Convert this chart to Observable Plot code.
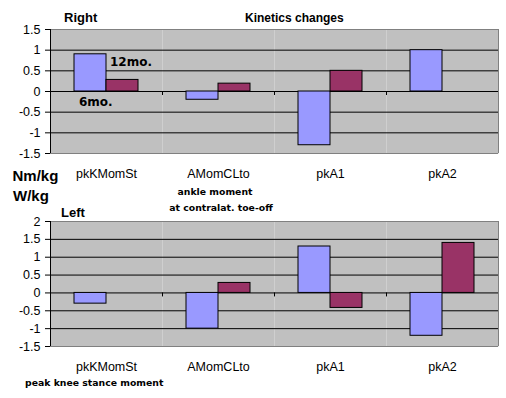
<!DOCTYPE html>
<html><head><meta charset="utf-8">
<script src="https://cdn.jsdelivr.net/npm/d3@7"></script>
<script src="https://cdn.jsdelivr.net/npm/@observablehq/plot@0.6"></script>
<style>
body{margin:0;background:#fff;}
#wrap{position:relative;width:506px;height:398px;overflow:hidden;font-family:"Liberation Sans",Arial,sans-serif;color:#000;}
#wrap svg{position:absolute;left:0;}
.lbl{position:absolute;white-space:nowrap;line-height:1;transform:translateY(-50%);}
.ctr{transform:translate(-50%,-50%);}
.b{font-weight:bold;}
.small{font-family:"DejaVu Sans",sans-serif;font-weight:bold;font-size:9.3px;}
.mo{font-family:"DejaVu Sans",sans-serif;font-weight:bold;font-size:12px;}
</style></head><body><div id="wrap"></div>
<script>
const categories = ["pkKMomSt", "AMomCLto", "pkA1", "pkA2"];
const seriesNames = ["6mo.", "12mo."];
const right6 = [0.9, -0.2, -1.3, 1.0];
const right12 = [0.28, 0.19, 0.5, 0];
const left6 = [-0.3, -1.0, 1.3, -1.2];
const left12 = [0, 0.28, -0.42, 1.4];
const yTicksRight = [-1.5, -1, -0.5, 0, 0.5, 1, 1.5];
const yTicksLeft = [-1.5, -1, -0.5, 0, 0.5, 1, 1.5, 2];

function rows(a, b) {
  return categories.flatMap((c, i) => [
    {cat: c, series: seriesNames[0], value: a[i]},
    {cat: c, series: seriesNames[1], value: b[i]}
  ]);
}

const W = 506, ML = 50, MR = 8;
const facetW = (W - ML - MR) / categories.length;
const FONT = '"Liberation Sans", Arial, sans-serif';

function panel(data, ticks, height, marginBottom) {
  const lo = ticks[0], hi = ticks[ticks.length - 1];
  const inner = ticks.slice(1, -1);
  const last = [categories[categories.length - 1]];
  const first = [categories[0]];
  return Plot.plot({
    width: W, height, marginLeft: ML, marginRight: MR, marginTop: 29, marginBottom,
    style: {fontFamily: FONT, fontSize: "12.5px", color: "#000", background: "transparent", overflow: "visible"},
    fx: {domain: categories, padding: 0, label: null, axis: "bottom", tickSize: 0, tickPadding: 16},
    x: {domain: seriesNames, paddingInner: 0, paddingOuter: 0.75, axis: null},
    y: {domain: [lo, hi], axis: null, label: null},
    color: {domain: seriesNames, range: ["#9999FF", "#993366"]},
    marks: [
      Plot.frame({fill: "#C0C0C0", stroke: null}),
      Plot.ruleY(inner, {stroke: "#000"}),
      Plot.ruleY([lo, hi], {stroke: "#808080"}),
      Plot.barY(data, {fx: "cat", x: "series", y: "value", fill: "series", stroke: "#000", strokeWidth: 1}),
      Plot.ruleX([0], {x: null, y1: () => 0, y2: () => 0, insetBottom: -4, dx: -facetW / 2, stroke: "#000"}),
      Plot.ruleX(last, {fx: d => d, x: null, y1: () => 0, y2: () => 0, insetBottom: -4, dx: facetW / 2, stroke: "#000"}),
      Plot.ruleX(last, {fx: d => d, x: null, dx: facetW / 2, stroke: "#808080"}),
      Plot.ruleX(first, {fx: d => d, x: null, dx: -facetW / 2, stroke: "#000"}),
      Plot.axisY(ticks, {anchor: "left", tickSize: 5, tickPadding: 5, label: null, tickFormat: d => String(d)})
    ]
  });
}

const wrap = document.getElementById("wrap");
const top1 = panel(rows(right6, right12), yTicksRight, 185, 32);
top1.style.top = "0px";
wrap.appendChild(top1);
const bot = panel(rows(left6, left12), yTicksLeft, 206, 52);
bot.style.top = "192px";
wrap.appendChild(bot);

const labels = [
  {t: "Right", x: 64, y: 17, cls: "b", size: 13},
  {t: "Kinetics changes", x: 245, y: 18, cls: "b", size: 12},
  {t: "12mo.", x: 110, y: 61.5, cls: "mo"},
  {t: "6mo.", x: 79, y: 101.7, cls: "mo"},
  {t: "Nm/kg", x: 12.5, y: 175, cls: "b", size: 15},
  {t: "W/kg", x: 13, y: 195, cls: "b", size: 15},
  {t: "Left", x: 61, y: 212, cls: "b", size: 13},
  {t: "ankle moment", x: 215, y: 192, cls: "small ctr"},
  {t: "at contralat. toe-off", x: 221, y: 208, cls: "small ctr"},
  {t: "peak knee stance moment", x: 25, y: 383, cls: "small"}
];
for (const l of labels) {
  const d = document.createElement("div");
  d.className = "lbl " + l.cls;
  d.textContent = l.t;
  d.style.left = l.x + "px";
  d.style.top = l.y + "px";
  if (l.size) d.style.fontSize = l.size + "px";
  wrap.appendChild(d);
}
</script></body></html>
